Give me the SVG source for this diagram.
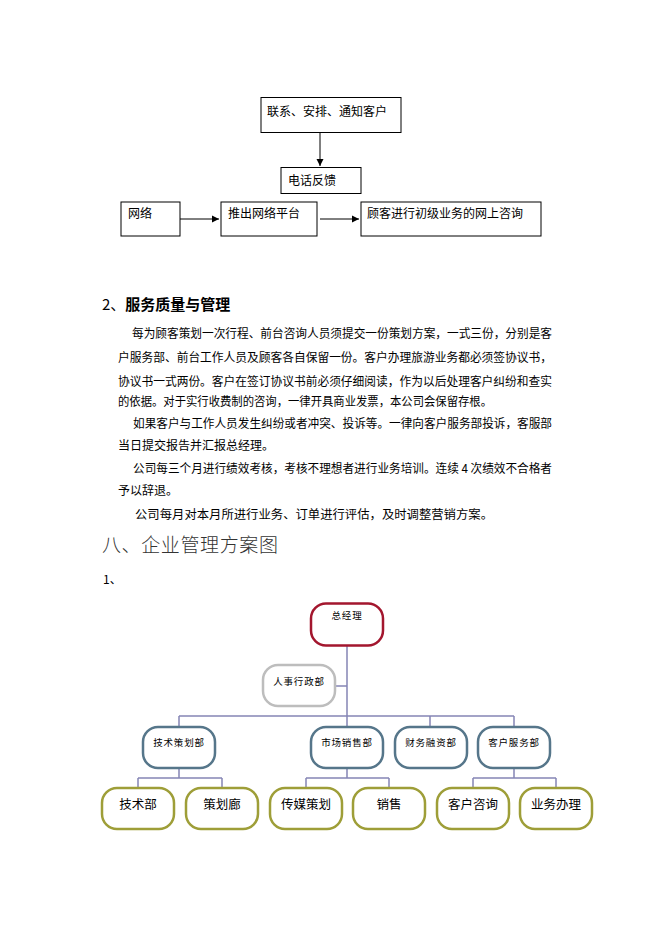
<svg xmlns="http://www.w3.org/2000/svg" width="662" height="936" viewBox="0 0 662 936">
<defs>
  <marker id="arr" markerWidth="8" markerHeight="8" refX="7" refY="4" orient="auto" markerUnits="userSpaceOnUse">
    <path d="M0,0.5 L7,4 L0,7.5 Z" fill="#000"/>
  </marker>
</defs>
<style>
  text { font-family: "Noto Sans CJK SC", "Liberation Sans", sans-serif; fill: #000; }
  .fb { fill: #fff; stroke: #000; stroke-width: 1; }
  .fl { fill: none; stroke: #000; stroke-width: 1; marker-end: url(#arr); }
  .ft { font-size: 12px; }
  .p { font-size: 12px; }
  .oc { fill: none; stroke: #8585b5; stroke-width: 1.5; }
  .top { fill: #fff; stroke: #a3162e; stroke-width: 2.5; }
  .hr { fill: #fff; stroke: #bdbdbd; stroke-width: 2.5; }
  .l2 { fill: #fff; stroke: #56768a; stroke-width: 2.5; }
  .l3 { fill: #fff; stroke: #9e9e38; stroke-width: 2.5; }
  .t2 { font-size: 9.5px; letter-spacing: 0.8px; text-anchor: middle; }
  .t3 { font-size: 12.5px; text-anchor: middle; }
</style>

<!-- Top flowchart -->
<g id="connectors-flow">
  <line class="fl" x1="320" y1="132" x2="320" y2="166"/>
  <line class="fl" x1="180" y1="219" x2="219" y2="219"/>
  <line class="fl" x1="320" y1="219" x2="359" y2="219"/>
</g>
<g id="n-lianxi">
  <rect class="fb" x="261" y="97.5" width="140" height="35"/>
  <text class="ft" x="267" y="116">联系、安排、通知客户</text>
</g>
<g id="n-dianhua">
  <rect class="fb" x="281" y="167.5" width="80" height="26"/>
  <text class="ft" x="288" y="185">电话反馈</text>
</g>
<g id="n-wangluo">
  <rect class="fb" x="121" y="202" width="59" height="34"/>
  <text class="ft" x="128" y="218">网络</text>
</g>
<g id="n-tuichu">
  <rect class="fb" x="221" y="202" width="96" height="34"/>
  <text class="ft" x="228" y="218">推出网络平台</text>
</g>
<g id="n-guke">
  <rect class="fb" x="361" y="202" width="180" height="34"/>
  <text class="ft" x="367" y="218">顾客进行初级业务的网上咨询</text>
</g>

<!-- Section text -->
<text x="102" y="310" style="font-size:15px">2、<tspan font-weight="bold">服务质量与管理</tspan></text>
<text class="p" x="132" y="338" textLength="420" lengthAdjust="spacingAndGlyphs">每为顾客策划一次行程、前台咨询人员须提交一份策划方案，一式三份，分别是客</text>
<text class="p" x="118" y="362" textLength="434" lengthAdjust="spacingAndGlyphs">户服务部、前台工作人员及顾客各自保留一份。客户办理旅游业务都必须签协议书，</text>
<text class="p" x="118" y="386" textLength="434" lengthAdjust="spacingAndGlyphs">协议书一式两份。客户在签订协议书前必须仔细阅读，作为以后处理客户纠纷和查实</text>
<text class="p" x="118" y="406" textLength="374" lengthAdjust="spacingAndGlyphs">的依据。对于实行收费制的咨询，一律开具商业发票，本公司会保留存根。</text>
<text class="p" x="133" y="428" textLength="419" lengthAdjust="spacingAndGlyphs">如果客户与工作人员发生纠纷或者冲突、投诉等。一律向客户服务部投诉，客服部</text>
<text class="p" x="118" y="450">当日提交报告并汇报总经理。</text>
<text class="p" x="133" y="473" textLength="419" lengthAdjust="spacingAndGlyphs">公司每三个月进行绩效考核，考核不理想者进行业务培训。连续 4 次绩效不合格者</text>
<text class="p" x="118" y="495">予以辞退。</text>
<text class="p" x="135" y="519" textLength="358" lengthAdjust="spacingAndGlyphs">公司每月对本月所进行业务、订单进行评估，及时调整营销方案。</text>
<text x="102" y="552" style="font-size:19px;font-weight:300;fill:#333" textLength="176" lengthAdjust="spacing">八、企业管理方案图</text>
<text x="103" y="584" style="font-size:12px">1、</text>

<!-- Org chart connectors -->
<g id="connectors-org">
  <path class="oc" d="M347 646 V727"/>
  <path class="oc" d="M335 686 H347"/>
  <path class="oc" d="M179 716 H514"/>
  <path class="oc" d="M179 716 V727 M430 716 V727 M514 716 V727"/>
  <path class="oc" d="M179 768 V778 M138 778 H222 M138 778 V788 M222 778 V788"/>
  <path class="oc" d="M347 768 V778 M306 778 H389 M306 778 V788 M389 778 V788"/>
  <path class="oc" d="M514 768 V778 M473 778 H556 M473 778 V788 M556 778 V788"/>
</g>

<g id="o-zongjingli">
  <rect class="top" x="311" y="603.5" width="72" height="42" rx="15"/>
  <text class="t2" x="347" y="619">总经理</text>
</g>
<g id="o-renshi">
  <rect class="hr" x="263" y="665" width="72" height="41" rx="15"/>
  <text class="t2" x="299" y="685">人事行政部</text>
</g>
<g id="o-jishucehua">
  <rect class="l2" x="143" y="727" width="72" height="41" rx="15"/>
  <text class="t2" x="179" y="746">技术策划部</text>
</g>
<g id="o-shichang">
  <rect class="l2" x="311" y="727" width="72" height="41" rx="15"/>
  <text class="t2" x="347" y="746">市场销售部</text>
</g>
<g id="o-caiwu">
  <rect class="l2" x="395" y="727" width="72" height="41" rx="15"/>
  <text class="t2" x="431" y="746">财务融资部</text>
</g>
<g id="o-kehufuwu">
  <rect class="l2" x="478" y="727" width="72" height="41" rx="15"/>
  <text class="t2" x="514" y="746">客户服务部</text>
</g>
<g id="o-jishubu">
  <rect class="l3" x="102" y="788" width="72" height="41" rx="15"/>
  <text class="t3" x="138" y="809">技术部</text>
</g>
<g id="o-cehua">
  <rect class="l3" x="186" y="788" width="72" height="41" rx="15"/>
  <text class="t3" x="222" y="809">策划廊</text>
</g>
<g id="o-chuanmei">
  <rect class="l3" x="270" y="788" width="72" height="41" rx="15"/>
  <text class="t3" x="306" y="809">传媒策划</text>
</g>
<g id="o-xiaoshou">
  <rect class="l3" x="353" y="788" width="72" height="41" rx="15"/>
  <text class="t3" x="389" y="809">销售</text>
</g>
<g id="o-kehuzixun">
  <rect class="l3" x="437" y="788" width="72" height="41" rx="15"/>
  <text class="t3" x="473" y="809">客户咨询</text>
</g>
<g id="o-yewu">
  <rect class="l3" x="520" y="788" width="72" height="41" rx="15"/>
  <text class="t3" x="556" y="809">业务办理</text>
</g>
</svg>
